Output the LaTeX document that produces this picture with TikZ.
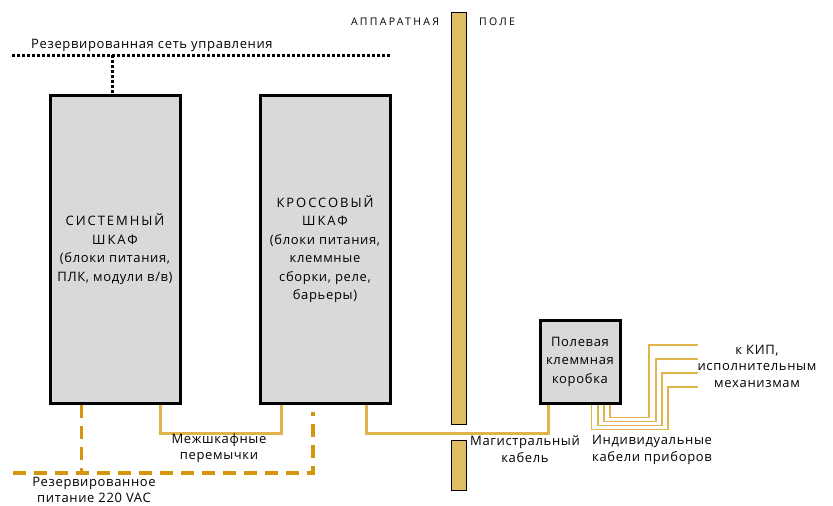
\documentclass[tikz,border=0pt]{standalone}
\usepackage{fontspec}
\setmainfont{Open Sans}[LetterSpace=5]
\usetikzlibrary{calc,positioning}
\definecolor{CabGray}{HTML}{D9D9D9}
\definecolor{WallTan}{HTML}{E0BC64}
\definecolor{CableGold}{HTML}{E0B44A}
\definecolor{PowerGold}{HTML}{D4960F}
\newcommand{\spaced}{\addfontfeature{LetterSpace=15}}

\begin{document}
\begin{tikzpicture}[x=1pt,y=-1pt,font=\fontsize{13}{18.5}\selectfont,
  cab/.style={draw,line width=3pt,fill=CabGray,inner sep=0,align=center},
  wall/.style={draw,line width=1pt,fill=WallTan,inner sep=0,minimum width=15},
  cable/.style={CableGold,line width=2.8pt},
  power/.style={PowerGold,line width=3.2pt,dash pattern=on 13pt off 8pt},
  net/.style={black,line width=3pt,dash pattern=on 3pt off 2pt},
  lbl/.style={align=center,inner sep=0,font=\fontsize{13}{16.5}\selectfont}]
  \useasboundingbox (0,0) rectangle (833,506);
  % cabinets and junction box
  \node[cab,minimum width=130,minimum height=308] (sys) at (115,249)
    {{\spaced СИСТЕМНЫЙ}\\{\spaced ШКАФ}\\(блоки питания,\\ПЛК, модули в/в)};
  \node[cab,minimum width=130,minimum height=308] (cross) at (325,249)
    {{\spaced КРОССОВЫЙ}\\{\spaced ШКАФ}\\(блоки питания,\\клеммные\\сборки, реле,\\барьеры)};
  \node[cab,minimum width=80,minimum height=83] (jbox) at (580,361.5)
    {Полевая\\клеммная\\коробка};
  % wall between control room and field
  \node[wall,minimum height=412] (wallA) at (458.5,218) {};
  \node[wall,minimum height=50] (wallB) at (458.5,465) {};
  \node[lbl,font=\fontsize{10.5}{12}\selectfont\addfontfeature{LetterSpace=22}] (room) at (395,22) {АППАРАТНАЯ};
  \node[lbl,font=\fontsize{10.5}{12}\selectfont\addfontfeature{LetterSpace=22}] (field) at (497,22) {ПОЛЕ};
  % control network
  \coordinate (netL) at (12,55);
  \coordinate (netR) at (390,55);
  \draw[net] (netL) -- (netR);
  \draw[net] ($(netL -| sys.north)+(-3,0)$) -- ($(sys.north)+(-3,0)$);
  \node[lbl,anchor=west] (netlbl) at (31,45) {Резервированная сеть управления};
  % power
  \coordinate (pwrS) at ($(sys.south west)!.246!(sys.south east)$);
  \coordinate (pwrL) at (13,473);
  \coordinate (pwrR) at (313,412);
  \draw[power] (pwrS) -- (pwrS |- pwrL);
  \draw[power] (pwrL) -| (pwrR);
  \node[lbl] (pwrlbl) at (94,490) {Резервированное\\питание 220 VAC};
  % jumpers and trunk cable
  \draw[cable] ($(sys.south west)!.84!(sys.south east)$) -- ++(0,29) -| ($(cross.south west)!.17!(cross.south east)$);
  \node[lbl] (jmplbl) at (219,448) {Межшкафные\\перемычки};
  \draw[cable] ($(cross.south west)!.815!(cross.south east)$) -- ++(0,29) -| ($(jbox.south west)!.125!(jbox.south east)$);
  \node[lbl] (trklbl) at (525,449) {Магистральный\\кабель};
  % individual cables
  \foreach \i/\f/\dy/\tx/\ty in {1/.6375/25/668/387, 2/.7125/21/662/373, 3/.7875/17/656/359, 4/.8625/13/649/345}{
    \coordinate (kip\i) at (698,\ty);
    \draw[cable,line width=1.8pt] ($(jbox.south west)!\f!(jbox.south east)$) -- ++(0,\dy) -| (\tx,\ty) -- (kip\i);
  }
  \node[lbl,align=left,anchor=west] (indlbl) at (592,450) {Индивидуальные\\кабели приборов};
  \node[lbl] (kiplbl) at (757,366) {к КИП,\\исполнительным\\механизмам};
\end{tikzpicture}
\end{document}
